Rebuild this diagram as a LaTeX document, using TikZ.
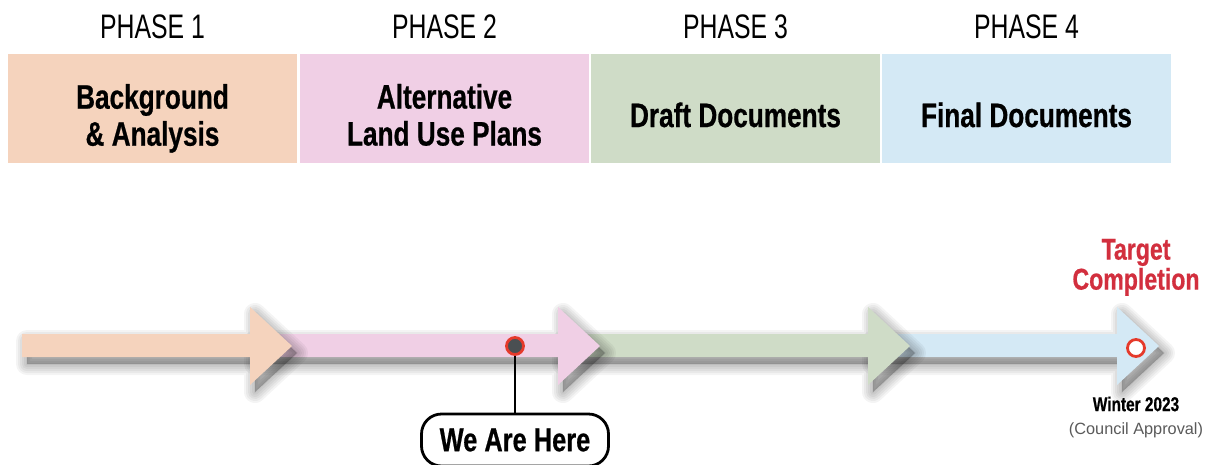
\documentclass[tikz,border=0pt]{standalone}
\usepackage{fontspec}
\setmainfont{Liberation Sans}
\newfontfamily\condreg{Liberation Sans}[FakeStretch=0.73]
\newfontfamily\condbold{Liberation Sans Bold}[FakeStretch=0.77, FakeBold=0.6]
\definecolor{peach}{HTML}{F5D3BD}
\definecolor{pinkish}{HTML}{F0CFE5}
\definecolor{sage}{HTML}{CFDCC7}
\definecolor{skyblue}{HTML}{D4E9F5}
\definecolor{ringred}{HTML}{E53A2B}
\definecolor{dotgrey}{HTML}{4A4F52}
\definecolor{targetred}{HTML}{D22F3E}
\definecolor{notegrey}{HTML}{5A5A5A}

% one segment of the timeline: colour, bar start, head base, tip
\newcommand\phasearrow[4]{%
  \begin{scope}[shift={(5,7)}]
    \foreach \w in {22,18,14,10,6,2}{
      \filldraw[black, fill opacity=0.045, draw opacity=0.045, line width=\w pt, line join=round]
        (#2,334) -- (#3,334) -- (#3,307) -- (#4,346) -- (#3,385) -- (#3,357) -- (#2,357) -- cycle;
    }
  \end{scope}
  \fill[#1] (#2,334) -- (#3,334) -- (#3,307) -- (#4,346) -- (#3,385) -- (#3,357) -- (#2,357) -- cycle;
}

\tikzset{
  phasebox/.style={minimum width=289pt, minimum height=109pt, inner sep=0pt, outer sep=0pt},
  phaselabel/.style={inner sep=0pt, font=\condreg\fontsize{34}{37}\selectfont},
  boxtext/.style={inner sep=0pt, align=center, font=\condbold\fontsize{34}{37}\selectfont},
}

\begin{document}
\begin{tikzpicture}[x=1pt, y=-1pt]
\clip (0,0) rectangle (1217,464);
\fill[white] (0,0) rectangle (1217,464);

% phase headings
\node[phaselabel] (p1) at (152.5,26.8) {PHASE 1};
\node[phaselabel] (p2) at (444.5,26.8) {PHASE 2};
\node[phaselabel] (p3) at (735.5,26.8) {PHASE 3};
\node[phaselabel] (p4) at (1026.5,26.8) {PHASE 4};

% phase boxes
\node[phasebox, fill=peach]   (b1) at (152.5,108.5) {};
\node[phasebox, fill=pinkish] (b2) at (444.5,108.5) {};
\node[phasebox, fill=sage]    (b3) at (735.5,108.5) {};
\node[phasebox, fill=skyblue] (b4) at (1026.5,108.5) {};

\node[boxtext] (t1) at (152.5,118.4) {Background\\\& Analysis};
\node[boxtext] (t2) at (444.5,114.9) {Alternative\\Land Use Plans};
\node[boxtext] (t3) at (735.5,114.9) {Draft Documents};
\node[boxtext] (t4) at (1026.5,114.9) {Final Documents};

% timeline, drawn right to left so each head sits over the next bar
\phasearrow{skyblue}{868}{1117}{1159}
\phasearrow{sage}{558}{868}{910}
\phasearrow{pinkish}{250}{558}{600}
\phasearrow{peach}{22}{250}{292}

% current position marker
\node[circle, fill=dotgrey, draw=ringred, line width=2.8pt, minimum size=17pt, inner sep=0pt] (here) at (515,346) {};
\node[draw=black, line width=2.8pt, rounded corners=20pt, minimum width=187pt, minimum height=52pt,
      inner sep=0pt, font=\condbold\fontsize{33}{36}\selectfont] (herelabel) at (515,440) {We Are Here};
\draw[line width=2.8pt] (here.south) -- (herelabel.north);

% target marker
\node[circle, fill=white, draw=ringred, line width=2.8pt, minimum size=17pt, inner sep=0pt] (target) at (1136,348) {};
\node[inner sep=0pt, align=center, text=targetred, font=\condbold\fontsize{30}{30}\selectfont] (targetlabel) at (1136,267.4) {Target\\Completion};
\node[inner sep=0pt, font=\condbold\fontsize{20}{22}\selectfont] (winter) at (1136,404) {Winter 2023};
\node[inner sep=0pt, text=notegrey, font=\fontsize{16.3}{18}\selectfont] (council) at (1136,430) {(Council Approval)};
\end{tikzpicture}
\end{document}
